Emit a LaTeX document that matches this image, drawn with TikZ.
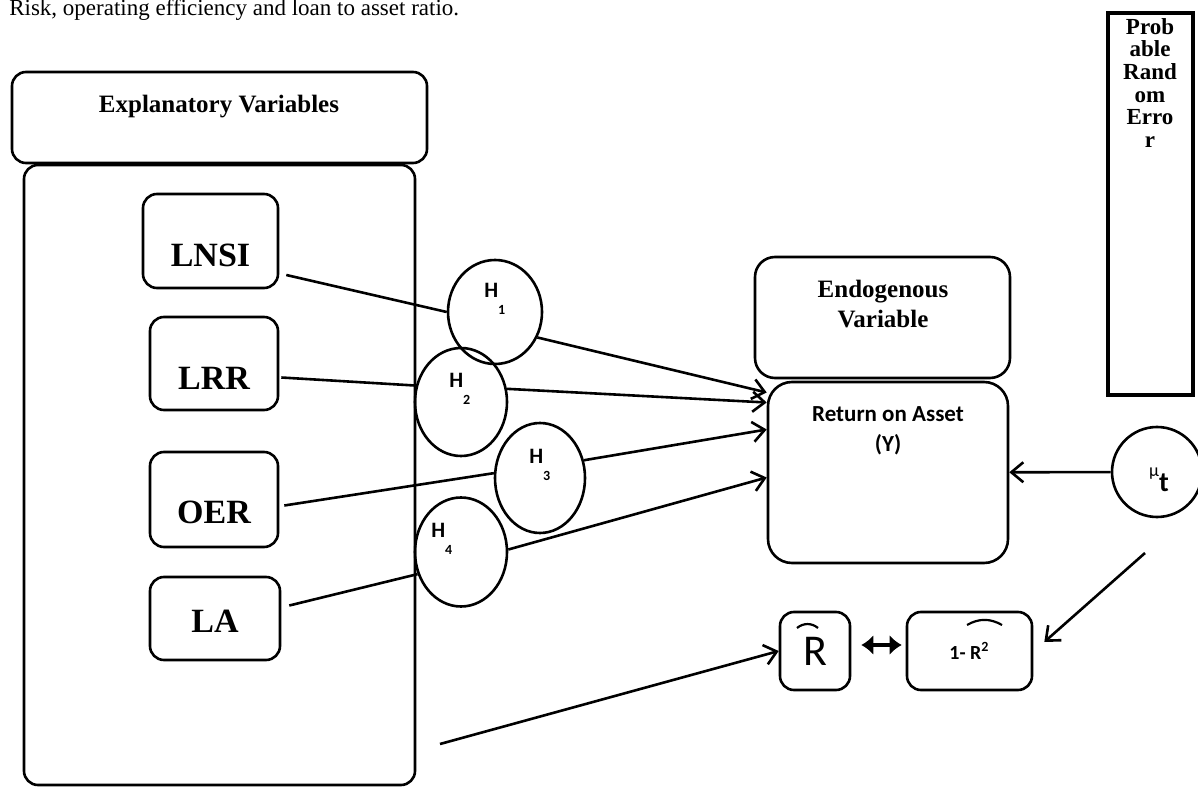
\documentclass[tikz,border=0pt]{standalone}
\usepackage{fontspec}
\setmainfont{Liberation Serif}
\newfontfamily\calib{Carlito}
\usetikzlibrary{shapes.geometric,arrows.meta}
\begin{document}
\begin{tikzpicture}[x=0.5pt, y=-0.5pt, line width=1.3pt,
        box/.style={draw, rounded corners=7pt, inner sep=0pt},
        var/.style={box, font=\fontsize{17}{17}\selectfont\bfseries, minimum width=65pt, text depth=0pt},
        hyp/.style={draw, ellipse, inner sep=0pt},
        hlab/.style={anchor=base west, inner sep=0pt, font=\calib\fontsize{11}{11}\selectfont\bfseries},
        head/.style={inner sep=0pt, align=center, font=\fontsize{12.5}{15}\selectfont\bfseries},
        arr/.style={arrows={-Straight Barb[length=6pt,width=10pt]}},
        dbl/.style={arrows={Latex[length=6pt,width=10pt]-Latex[length=6pt,width=10pt]}, line width=2.4pt},
        hatarc/.style={line width=1.1pt}]
        \useasboundingbox (0,0) rectangle (1198,790);
        \node[anchor=base west, inner sep=0pt, font=\fontsize{11.5}{11.5}\selectfont] (caption) at (8,16) {Risk, operating efficiency and loan to asset ratio.};
        \node[box, minimum width=207.5pt, minimum height=45.5pt] (expl) at (219.5,117.5) {};
        \node[head] (expltxt) at (219,107) {Explanatory Variables};
        \node[box, minimum width=195.5pt, minimum height=310pt] (big) at (219.5,475) {};
        \node[var, minimum width=67.5pt, minimum height=47pt, text height=26pt] (lnsi) at (210.5,241) {LNSI};
        \node[var, minimum width=64pt, minimum height=46.5pt, text height=26pt] (lrr) at (214,363.5) {LRR};
        \node[var, minimum width=64pt, minimum height=47.5pt, text height=24pt] (oer) at (214,499.5) {OER};
        \node[var, minimum width=65pt, minimum height=41.5pt, text height=14pt] (la) at (215,618.5) {LA};
        \node[hyp, minimum width=47pt, minimum height=52pt] (h1) at (495,312) {};
        \node[hyp, minimum width=46pt, minimum height=54pt] (h2) at (461,402) {};
        \node[hyp, minimum width=45pt, minimum height=55pt] (h3) at (540,478) {};
        \node[hyp, minimum width=46pt, minimum height=54.5pt] (h4) at (461,552) {};
        \node[hlab] (h1t) at ([shift={(-12,-14)}]h1.center) {H\raisebox{-8.5pt}{\fontsize{7}{7}\selectfont 1}};
        \node[hlab] (h2t) at ([shift={(-13,-14)}]h2.center) {H\raisebox{-8.5pt}{\fontsize{7}{7}\selectfont 2}};
        \node[hlab] (h3t) at ([shift={(-12,-14)}]h3.center) {H\raisebox{-8.5pt}{\fontsize{7}{7}\selectfont 3}};
        \node[hlab] (h4t) at ([shift={(-31,-14)}]h4.center) {H\raisebox{-8.5pt}{\fontsize{7}{7}\selectfont 4}};
        \node[box, rounded corners=10pt, minimum width=127.5pt, minimum height=60.5pt] (endo) at (882.5,317.5) {};
        \node[head] (endotxt) at (883,304) {Endogenous\\Variable};
        \node[box, rounded corners=12pt, minimum width=120pt, minimum height=90.5pt] (ret) at (888,472.5) {};
        \node[inner sep=0pt, align=center, font=\calib\fontsize{11.5}{15}\selectfont\bfseries] (rettxt) at (888,431) {Return on Asset\\(Y)};
        \node[draw, line width=2.2pt, minimum width=42.5pt, minimum height=191pt, inner sep=0pt] (err) at (1150.5,204) {};
        \node[anchor=north, inner sep=0pt, align=center, font=\fontsize{11.5}{11.3}\selectfont\bfseries] (errtxt) at (1150,17) {Prob\\able\\Rand\\om\\Erro\\r};
        \node[draw, circle, minimum size=45pt, inner sep=0pt] (mu) at (1157,472) {};
        \node[anchor=base, inner sep=0pt, font=\calib] (mutxt) at (1159,492) {\raisebox{8pt}{\fontsize{9}{9}\selectfont μ}{\fontsize{14}{14}\selectfont\bfseries t}};
        \node[box, font=\calib\fontsize{22}{22}\selectfont, minimum width=35pt, minimum height=39pt] (rhat) at (815,651) {R};
        \node[box, font=\calib\fontsize{10}{10}\selectfont\bfseries, minimum width=62.5pt, minimum height=39pt] (onem) at (969.5,651) {1- R\textsuperscript{2}};
        \draw[hatarc] ([shift={(-18,-23)}]rhat.center) to[bend left=40] ([shift={(3,-23)}]rhat.center);
        \draw[hatarc] ([shift={(-2.5,-26)}]onem.center) to[bend left=30] ([shift={(32.5,-26)}]onem.center);
        \coordinate (mutail) at (1145,553);
        \coordinate (bigtail) at (440,744);
        \draw ([shift={(7,34)}]lnsi.east) -- (h1.west);
        \draw ([shift={(2,14)}]lrr.east) -- (h2.160);
        \draw ([shift={(5,6)}]oer.east) -- (h3.174);
        \draw ([shift={(8,-13)}]la.east) -- (h4.207);
        \draw[arr] (h1.-31) -- ([shift={(0,-80)}]ret.west);
        \draw[arr] (h2.16) -- ([shift={(0,-70)}]ret.west);
        \draw[arr] (h3.22) -- ([shift={(0,-43)}]ret.west);
        \draw[arr] (h4.3) -- ([shift={(0,5)}]ret.west);
        \draw[arr] (mu) -- (ret);
        \draw[arr] (mutail) -- ([shift={(11,-9)}]onem.east);
        \draw[arr] (bigtail) -- (rhat.west);
        \draw[dbl] ([shift={(10,-6)}]rhat.east) -- ([shift={(-4,-6)}]onem.west);
    \end{tikzpicture}
\end{document}
